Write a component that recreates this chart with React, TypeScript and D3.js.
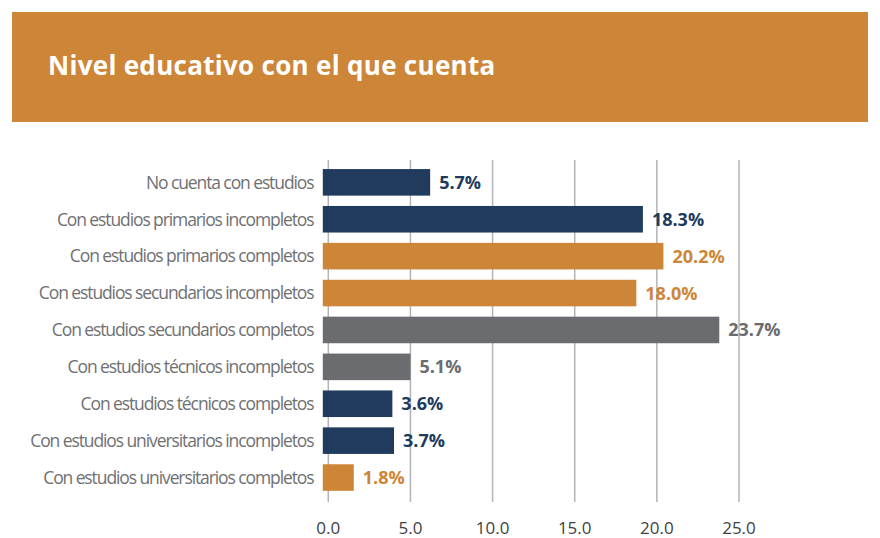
import React from "react";
import * as d3 from "d3";

const title = "Nivel educativo con el que cuenta";

const categories = [
  "No cuenta con estudios",
  "Con estudios primarios incompletos",
  "Con estudios primarios completos",
  "Con estudios secundarios incompletos",
  "Con estudios secundarios completos",
  "Con estudios técnicos incompletos",
  "Con estudios técnicos completos",
  "Con estudios universitarios incompletos",
  "Con estudios universitarios completos",
];

// bar lengths as drawn in the picture (axis units)
const barValues = [6.2, 19.15, 20.4, 18.75, 23.8, 5.0, 3.9, 4.0, 1.55];
// printed labels
const valueLabels = ["5.7%", "18.3%", "20.2%", "18.0%", "23.7%", "5.1%", "3.6%", "3.7%", "1.8%"];
const colorGroups = ["navy", "navy", "orange", "orange", "gray", "gray", "navy", "navy", "orange"];

const xTicks = [0, 5, 10, 15, 20, 25];

const palette: Record<string, string> = {
  navy: "#203b5e",
  orange: "#cd8637",
  gray: "#6b6c70",
};

export default function App() {
  const width = 880;
  const height = 538;

  const x = d3.scaleLinear().domain([0, 25]).range([328.3, 739]);
  const y = d3
    .scaleBand()
    .domain(categories)
    .range([163.9, 496])
    .paddingInner(0.28)
    .paddingOuter(0.14);
  const fmt = d3.format(".1f");
  const overhang = 5.5;

  return (
    <svg
      width={width}
      height={height}
      style={{ position: "absolute", left: 0, top: 0, fontFamily: "'Open Sans', sans-serif" }}
    >
      <rect x={12} y={12} width={856} height={110} fill={palette.orange} />
      <text x={48} y={75} fill="#fff" fontSize={26} fontWeight={700} letterSpacing={0.3}>
        {title}
      </text>

      <g>
        {xTicks.map((t) => (
          <line key={t} x1={x(t)} x2={x(t)} y1={160} y2={502} stroke="#b4b4b6" strokeWidth={1.5} />
        ))}
      </g>

      <g>
        {categories.map((c, i) => (
          <rect
            key={c}
            x={x(0) - overhang}
            y={y(c)}
            width={x(barValues[i]) - x(0) + overhang}
            height={y.bandwidth()}
            fill={palette[colorGroups[i]]}
          />
        ))}
      </g>

      <g>
        {categories.map((c, i) => (
          <text
            key={c}
            x={x(barValues[i]) + 9}
            y={(y(c) ?? 0) + y.bandwidth() / 2}
            dy="0.36em"
            fontSize={18}
            fontWeight={700}
            fill={palette[colorGroups[i]]}
          >
            {valueLabels[i]}
          </text>
        ))}
      </g>

      <g>
        {categories.map((c) => (
          <text
            key={c}
            x={313.5}
            y={(y(c) ?? 0) + y.bandwidth() / 2}
            dy="0.36em"
            textAnchor="end"
            fontSize={17.5}
            letterSpacing={-1.1}
            fill="#6f7073"
          >
            {c}
          </text>
        ))}
      </g>

      <g>
        {xTicks.map((t) => (
          <text key={t} x={x(t)} y={534} textAnchor="middle" fontSize={17} fill="#3f3f3f">
            {fmt(t)}
          </text>
        ))}
      </g>
    </svg>
  );
}
